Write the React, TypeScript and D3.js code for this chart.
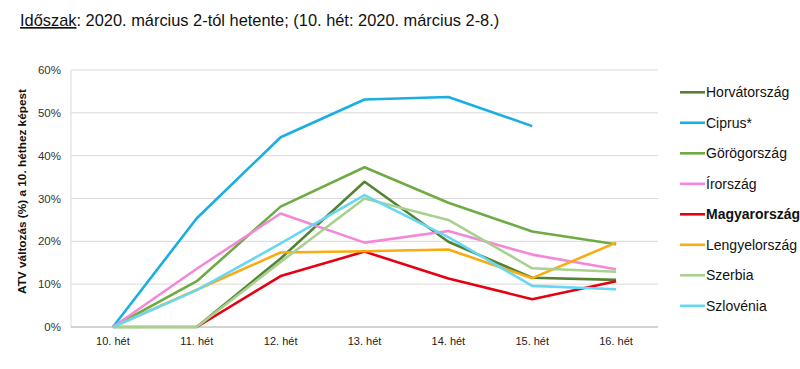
import React from "react";
import * as d3 from "d3";

const weeks = ["10. hét", "11. hét", "12. hét", "13. hét", "14. hét", "15. hét", "16. hét"];
const yTicks = [0, 10, 20, 30, 40, 50, 60];

const horvatorszag = [0, 0, 16, 33.9, 19.9, 11.5, 11.0];
const ciprus = [0, 25.4, 44.3, 53.1, 53.7, 46.9, null];
const gorogorszag = [0, 10.7, 28.1, 37.3, 29.0, 22.3, 19.3];
const irorszag = [0, 13.6, 26.5, 19.7, 22.4, 16.9, 13.5];
const magyarorszag = [null, 0, 11.9, 17.6, 11.3, 6.5, 10.7];
const lengyelorszag = [0, 8.7, 17.4, 17.7, 18.1, 11.4, 19.7];
const szerbia = [0, 0, 15.2, 30.0, 25.0, 13.7, 12.9];
const szlovenia = [0, 8.6, 19.5, 30.8, 21.0, 9.6, 8.8];

const series = [
  { name: "Horvátország", values: horvatorszag, color: "#548235", bold: false },
  { name: "Ciprus*", values: ciprus, color: "#1aaee2", bold: false },
  { name: "Görögország", values: gorogorszag, color: "#6fab44", bold: false },
  { name: "Írország", values: irorszag, color: "#f488d8", bold: false },
  { name: "Magyarország", values: magyarorszag, color: "#e60012", bold: true },
  { name: "Lengyelország", values: lengyelorszag, color: "#fbab0f", bold: false },
  { name: "Szerbia", values: szerbia, color: "#a9d18e", bold: false },
  { name: "Szlovénia", values: szlovenia, color: "#66d8f4", bold: false },
];

export default function App() {
  const W = 800, H = 369;
  const left = 71, right = 658, top = 70, bottom = 327;
  const x = d3.scaleBand<string>().domain(weeks).range([left, right]);
  const y = d3.scaleLinear().domain([0, 60]).range([bottom, top]);
  const cx = (w: string) => (x(w) as number) + x.bandwidth() / 2;
  const line = d3
    .line<number | null>()
    .defined((d) => d !== null)
    .x((_, i) => cx(weeks[i]))
    .y((d) => y(d as number));
  const font = "Liberation Sans, Arial, sans-serif";
  return (
    <svg
      width={W}
      height={H}
      style={{ position: "absolute", left: 0, top: 0, background: "#fff" }}
      fontFamily={font}
    >
      <text x={20} y={26} fontSize={16.4} fill="#111">
        <tspan textDecoration="underline">Időszak</tspan>
        <tspan>: 2020. március 2-tól hetente; (10. hét: 2020. március 2-8.)</tspan>
      </text>
      {yTicks.map((t) => (
        <g key={t}>
          {t > 0 && (
            <line x1={left} x2={right} y1={y(t)} y2={y(t)} stroke="#d9d9d9" strokeWidth={1} />
          )}
          <text x={61} y={y(t) + 4} fontSize={11.5} textAnchor="end" fill="#333">
            {t}%
          </text>
        </g>
      ))}
      <line x1={left} x2={left} y1={top} y2={bottom} stroke="#d9d9d9" strokeWidth={1} />
      <line x1={left} x2={right} y1={bottom} y2={bottom} stroke="#a6a6a6" strokeWidth={1.2} />
      {weeks.map((w) => (
        <text key={w} x={cx(w)} y={345} fontSize={11} textAnchor="middle" fill="#222">
          {w}
        </text>
      ))}
      <text
        transform={`translate(26, 191.5) rotate(-90)`}
        textAnchor="middle"
        fontSize={11.8}
        fontWeight="bold"
        fill="#111"
      >
        ATV változás (%) a 10. héthez képest
      </text>
      {series.map((s) => (
        <path
          key={s.name}
          d={line(s.values) || ""}
          fill="none"
          stroke={s.color}
          strokeWidth={2.6}
          strokeLinejoin="round"
        />
      ))}
      {series.map((s, i) => {
        const ly = 92.3 + i * 30.5;
        return (
          <g key={s.name}>
            <line x1={680} x2={705} y1={ly} y2={ly} stroke={s.color} strokeWidth={2.6} />
            <text
              x={706}
              y={ly + 5}
              fontSize={14}
              fontWeight={s.bold ? "bold" : "normal"}
              fill="#111"
            >
              {s.name}
            </text>
          </g>
        );
      })}
    </svg>
  );
}
